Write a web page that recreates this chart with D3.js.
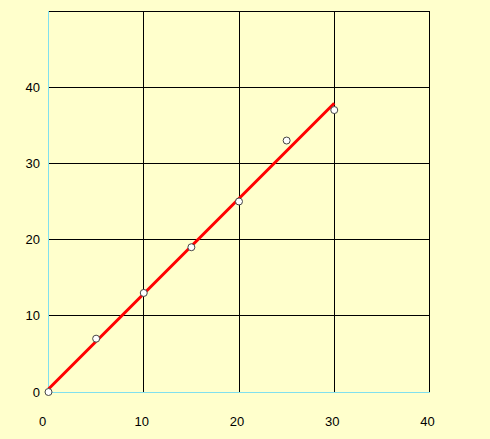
<!DOCTYPE html>
<html>
<head>
<meta charset="utf-8">
<script src="https://cdn.jsdelivr.net/npm/d3@7"></script>
<style>
  html, body { margin: 0; padding: 0; background: #ffffcc; }
  svg { display: block; }
</style>
</head>
<body>
<div id="chart"></div>
<script>
// observed values
const xValues = [0, 5, 10, 15, 20, 25, 30];
const yValues = [0, 7, 13, 19, 25, 33, 37];
// fitted line end points
const fitX = [0, 30];
const fitY = [0.4, 37.9];
const xTicks = [0, 10, 20, 30, 40];
const yTicks = [0, 10, 20, 30, 40];
const yGrid = [10, 20, 30, 40, 50];

const width = 490, height = 439;
const plotLeft = 48.5, plotRight = 429.5, plotTop = 11, plotBottom = 392;

const svg = d3.select("#chart").append("svg")
    .attr("width", width)
    .attr("height", height);

svg.append("rect")
    .attr("width", width)
    .attr("height", height)
    .attr("fill", "#ffffcc");

const x = d3.scaleLinear().domain([0, 40]).range([plotLeft, plotRight]);
const y = d3.scaleLinear().domain([0, 50]).range([plotBottom, plotTop]);

// grid
svg.append("g").selectAll("line")
    .data(xTicks.slice(1))
    .join("line")
    .attr("x1", d => x(d)).attr("x2", d => x(d))
    .attr("y1", plotTop).attr("y2", plotBottom)
    .attr("stroke", "#000").attr("stroke-width", 1)
    .attr("shape-rendering", "crispEdges");

svg.append("g").selectAll("line")
    .data(yGrid)
    .join("line")
    .attr("x1", plotLeft).attr("x2", plotRight)
    .attr("y1", d => y(d)).attr("y2", d => y(d))
    .attr("stroke", "#000").attr("stroke-width", 1)
    .attr("shape-rendering", "crispEdges");

// axis lines
svg.append("line")
    .attr("x1", plotLeft).attr("x2", plotLeft)
    .attr("y1", plotTop).attr("y2", plotBottom)
    .attr("stroke", "#80e0ee").attr("stroke-width", 1)
    .attr("shape-rendering", "crispEdges");
svg.append("line")
    .attr("x1", plotLeft).attr("x2", plotRight)
    .attr("y1", plotBottom).attr("y2", plotBottom)
    .attr("stroke", "#80e0ee").attr("stroke-width", 1)
    .attr("shape-rendering", "crispEdges");

// tick labels
svg.append("g").selectAll("text")
    .data(xTicks)
    .join("text")
    .attr("x", d => x(d) - (d === 0 ? 6 : 2))
    .attr("y", 426)
    .attr("text-anchor", "middle")
    .attr("font-family", "Liberation Sans, Arial, sans-serif")
    .attr("font-size", 13)
    .attr("fill", "#000")
    .text(d => d);

svg.append("g").selectAll("text")
    .data(yTicks)
    .join("text")
    .attr("x", 40)
    .attr("y", d => y(d) + 4.5)
    .attr("text-anchor", "end")
    .attr("font-family", "Liberation Sans, Arial, sans-serif")
    .attr("font-size", 13)
    .attr("fill", "#000")
    .text(d => d);

// fitted line
const line = d3.line().x(d => x(d[0])).y(d => y(d[1]));
svg.append("path")
    .datum(d3.zip(fitX, fitY))
    .attr("d", line)
    .attr("fill", "none")
    .attr("stroke", "#ff0000")
    .attr("stroke-width", 3);

// points
svg.append("g").selectAll("circle")
    .data(d3.zip(xValues, yValues))
    .join("circle")
    .attr("cx", d => x(d[0]))
    .attr("cy", d => y(d[1]))
    .attr("r", 3.5)
    .attr("fill", "#fff")
    .attr("stroke", "#444")
    .attr("stroke-width", 1);
</script>
</body>
</html>
